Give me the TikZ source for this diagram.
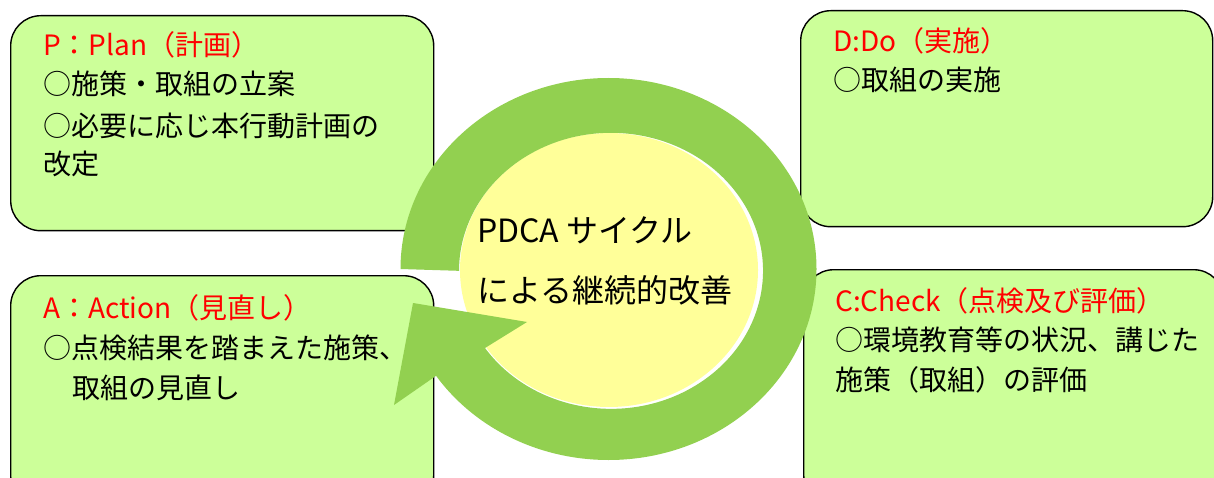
\documentclass[tikz,border=0pt]{standalone}
\usepackage{fontspec}
\setmainfont{Noto Sans CJK JP}
\definecolor{boxfill}{HTML}{CCFF99}
\definecolor{ringgreen}{HTML}{92D050}
\definecolor{coreyellow}{HTML}{FFFF99}
\definecolor{titlered}{HTML}{FF0000}
\begin{document}
\begin{tikzpicture}[x=1pt,y=1pt,
  box/.style={draw=black, line width=1.4pt, fill=boxfill, rounded corners=30pt, anchor=north west, inner sep=0pt},
  ttl/.style={anchor=base west, inner sep=0pt, text=titlered, font=\fontsize{28}{40}\selectfont},
  body/.style={anchor=base west, inner sep=0pt, text=black, font=\fontsize{28}{40}\selectfont},
  core/.style={anchor=base west, inner sep=0pt, text=black, font=\fontsize{32}{62}\selectfont}]
\useasboundingbox (0,0) rectangle (1214,-478);
\clip (0,0) rectangle (1214,-478);
% boxes
\node[box, minimum width=423pt, minimum height=215pt] (plan) at (10,-15) {};
\node[box, minimum width=412pt, minimum height=216pt] (do) at (800,-10) {};
\node[box, minimum width=423pt, minimum height=230pt] (act) at (10,-275) {};
\node[box, minimum width=420pt, minimum height=235pt] (check) at (803,-269) {};
% yellow core
\fill[coreyellow] (609,-270) ellipse[x radius=149, y radius=137];
% ring with arrowhead
\fill[ringgreen] (400.5,-269) arc[start angle=180, end angle=-146, x radius=208, y radius=191]
  -- (394,-405) -- (413,-303) -- (527,-322) -- (485,-348)
  arc[start angle=-146, end angle=180, x radius=152, y radius=138] -- cycle;
% texts
\node[core] (c1) at (477,-243) {PDCA サイクル};
\node[core] (c2) at (477,-302) {による継続的改善};
\node[ttl] (pt) at (43,-56) {P：Plan（計画）};
\node[body] (p1) at (43,-95) {○施策・取組の立案};
\node[body] (p2) at (43,-137) {○必要に応じ本行動計画の};
\node[body] (p3) at (43,-175) {改定};
\node[ttl] (dt) at (833,-52) {D:Do（実施）};
\node[body] (d1) at (833,-91) {○取組の実施};
\node[ttl] (at) at (43,-318) {A：Action（見直し）};
\node[body] (a1) at (43,-358) {○点検結果を踏まえた施策、};
\node[body] (a2) at (72,-398) {取組の見直し};
\node[ttl] (ct) at (835,-311) {C:Check（点検及び評価）};
\node[body] (c3) at (835,-350) {○環境教育等の状況、講じた};
\node[body] (c4) at (835,-390) {施策（取組）の評価};
\end{tikzpicture}
\end{document}
